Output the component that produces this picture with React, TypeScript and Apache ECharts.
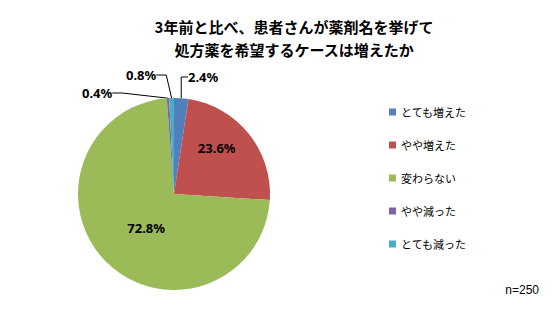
import React, { useEffect, useRef } from "react";
import * as echarts from "echarts";

const titleLines = ["3年前と比べ、患者さんが薬剤名を挙げて", "処方薬を希望するケースは増えたか"];
const categories = ["とても増えた", "やや増えた", "変わらない", "やや減った", "とても減った"];
const values = [2.4, 23.6, 72.8, 0.4, 0.8];
const colors = ["#4F81BD", "#C0504D", "#9BBB59", "#8064A2", "#4BACC6"];
const sampleNote = "n=250";

// label placement tweaks (layout only)
const labelLayouts: any[] = [
  { x: 188, y: 77, align: "left", verticalAlign: "middle" },
  { dx: 3, dy: -14 },
  { dx: 8, dy: -2 },
  { x: 82, y: 93, align: "left", verticalAlign: "middle" },
  { x: 126, y: 75, align: "left", verticalAlign: "middle" },
];
const insideIdx = [1, 2];

export default function App() {
  const ref = useRef<HTMLDivElement>(null);
  useEffect(() => {
    document.body.style.margin = "0";
    const chart = echarts.init(ref.current!, null, { renderer: "svg" });
    const font = "'Noto Sans CJK JP', 'Noto Sans', sans-serif";
    chart.setOption({
      animation: false,
      backgroundColor: "#fff",
      color: colors,
      title: {
        text: titleLines.join("\n"),
        left: 289,
        top: 10,
        textAlign: "center",
        textStyle: { fontFamily: font, fontSize: 15, fontWeight: "bold", color: "#000", lineHeight: 23 },
      },
      legend: {
        orient: "vertical",
        left: 384,
        top: 100,
        itemWidth: 7,
        itemHeight: 7,
        itemGap: 19,
        icon: "rect",
        data: categories,
        textStyle: { fontFamily: font, fontSize: 11, color: "#000", lineHeight: 14 },
      },
      graphic: [
        {
          type: "text",
          right: 16,
          top: 284,
          style: { text: sampleNote, fontFamily: "'Liberation Sans', Arial, sans-serif", fontSize: 12, fill: "#000" },
        },
      ],
      series: [
        {
          type: "pie",
          center: [174, 194],
          radius: 96,
          startAngle: 90,
          clockwise: true,
          avoidLabelOverlap: false,
          itemStyle: { borderColor: "#fff", borderWidth: 0 },
          label: {
            formatter: (p: any) => p.value.toFixed(1) + "%",
            fontFamily: "'Noto Sans', sans-serif",
            fontWeight: "bold",
            fontSize: 13,
            color: "#000",
          },
          labelLine: { show: true, lineStyle: { color: "#000", width: 1 }, length: 10, length2: 10 },
          labelLayout: (params: any) => labelLayouts[params.dataIndex],
          data: categories.map((name, i) => ({
            name,
            value: values[i],
            label: { position: insideIdx.includes(i) ? "inside" : "outside" },
            labelLine: { show: !insideIdx.includes(i) },
          })),
        },
      ],
    });
    return () => chart.dispose();
  }, []);
  return <div ref={ref} style={{ position: "fixed", left: 0, top: 0, width: 555, height: 311 }} />;
}
